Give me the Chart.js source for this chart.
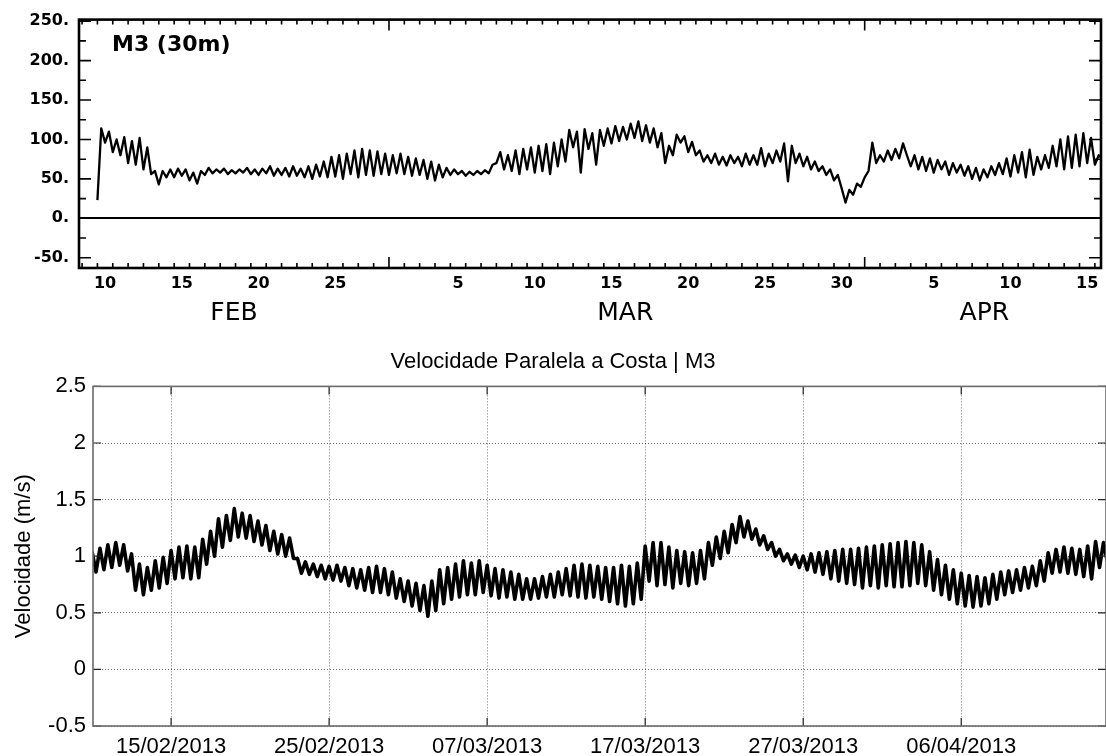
<!DOCTYPE html>
<html>
<head>
<meta charset="utf-8">
<title>Velocidade Paralela a Costa | M3</title>
<script src="https://cdn.jsdelivr.net/npm/chart.js@4.4.1/dist/chart.umd.min.js"></script>
<style>
  html, body { margin: 0; padding: 0; background: #fff; }
  #wrap { position: relative; width: 1106px; height: 756px; overflow: hidden; }
  #topWrap { position: absolute; left: 0; top: 0; width: 1106px; height: 330px; }
  #bottomWrap { position: absolute; left: 0; top: 330px; width: 1106px; height: 426px; }
</style>
</head>
<body>
<div id="wrap">
  <div id="topWrap"><canvas id="topChart"></canvas></div>
  <div id="bottomWrap"><canvas id="bottomChart"></canvas></div>
</div>
<script>
// ---- top panel (scanned plot): days since 10 Feb, one value every 6 h ----
const topPanelLabel = 'M3 (30m)';
const topStartDay = 0;
const topStepDays = 0.25;
const topValues = [
  23, 114, 96, 110,   84, 100, 80, 103,   70, 98, 68, 102,   62, 90, 56, 60,
  43, 60, 52, 62,     52, 63, 54, 62,     48, 58, 44, 60,    55, 64, 57, 62,
  58, 63, 56, 61,     57, 62, 58, 64,     56, 62, 55, 63,    57, 66, 54, 63,
  55, 64, 53, 66,     54, 63, 52, 66,     50, 68, 53, 72,    52, 78, 53, 80,
  50, 82, 56, 86,     52, 88, 55, 86,     54, 85, 56, 82,    55, 80, 57, 82,
  56, 78, 54, 76,     55, 74, 50, 72,     48, 68, 52, 64,    55, 62, 56, 60,
  54, 59, 55, 60,     56, 61, 57, 68,     70, 84, 62, 80,    60, 86, 56, 88,
  62, 90, 58, 92,     60, 94, 56, 96,     66, 100, 72, 112,  90, 110, 58, 113,
  88, 108, 68, 112,   92, 114, 95, 117,   98, 116, 100, 120, 102, 123, 98, 118,
  96, 114, 90, 108,   70, 92, 80, 106,    96, 104, 84, 97,   80, 86, 72, 80,
  70, 82, 68, 78,     67, 80, 70, 78,     66, 82, 68, 80,    68, 89, 66, 82,
  70, 86, 72, 95,     47, 92, 70, 82,     66, 78, 62, 72,    60, 66, 55, 62,
  48, 55, 38, 20,     36, 30, 44, 40,     52, 60, 96, 70,    80, 72, 86, 74,
  88, 76, 95, 80,     66, 80, 62, 78,     60, 76, 58, 74,    62, 72, 55, 70,
  58, 68, 54, 66,     50, 64, 48, 62,     52, 66, 55, 70,    56, 76, 53, 80,
  58, 84, 52, 87,     55, 78, 62, 80,     64, 92, 66, 100,   62, 104, 64, 106,
  66, 108, 70, 102,   68, 80, 75
];
const topTickDays = [0.5, 5.5, 10.5, 15.5, 23.5, 28.5, 33.5, 38.5, 43.5, 48.5, 54.5, 59.5, 64.5];
const topTickLabels = ['10', '15', '20', '25', '5', '10', '15', '20', '25', '30', '5', '10', '15'];
const topMonthDays = [8.9, 34.4, 57.8];
const topMonths = ['FEB', 'MAR', 'APR'];
const topMonthStarts = [19, 50];
const topYTicks = [-50, 0, 50, 100, 150, 200, 250];

// ---- bottom panel: days since 15/02/2013, one value every 6 h ----
const bottomTitle = 'Velocidade Paralela a Costa | M3';
const bottomYTitle = 'Velocidade (m/s)';
const bottomStartDay = -5;
const bottomStepDays = 0.25;
const bottomValues = [
  1.04, 0.86, 1.07, 0.88,  1.10, 0.90, 1.12, 0.92,  1.10, 0.87, 1.02, 0.70,  0.93, 0.66, 0.90, 0.70,
  0.96, 0.72, 0.99, 0.76,  1.05, 0.80, 1.08, 0.81,  1.09, 0.80, 1.08, 0.81,  1.15, 0.93, 1.22, 1.00,
  1.33, 1.08, 1.36, 1.14,  1.42, 1.17, 1.38, 1.16,  1.36, 1.13, 1.31, 1.10,  1.27, 1.05, 1.22, 1.02,
  1.19, 1.00, 1.16, 0.98,  0.98, 0.85, 0.95, 0.84,  0.93, 0.82, 0.92, 0.80,  0.91, 0.79, 0.92, 0.78,
  0.90, 0.74, 0.89, 0.72,  0.88, 0.70, 0.90, 0.68,  0.91, 0.68, 0.89, 0.66,  0.86, 0.63, 0.80, 0.60,
  0.78, 0.56, 0.76, 0.52,  0.74, 0.47, 0.78, 0.52,  0.88, 0.58, 0.90, 0.62,  0.93, 0.64, 0.96, 0.66,
  0.94, 0.66, 0.96, 0.68,  0.92, 0.65, 0.89, 0.63,  0.88, 0.64, 0.86, 0.62,  0.84, 0.62, 0.80, 0.62,
  0.80, 0.63, 0.82, 0.64,  0.84, 0.64, 0.86, 0.66,  0.89, 0.65, 0.92, 0.64,  0.93, 0.63, 0.92, 0.64,
  0.91, 0.62, 0.90, 0.60,  0.90, 0.58, 0.92, 0.56,  0.91, 0.58, 0.94, 0.62,  1.09, 0.78, 1.12, 0.74,
  1.12, 0.75, 1.08, 0.72,  1.05, 0.76, 1.04, 0.74,  1.03, 0.76, 1.05, 0.80,  1.12, 0.92, 1.17, 0.98,
  1.22, 1.03, 1.28, 1.12,  1.35, 1.17, 1.31, 1.15,  1.24, 1.10, 1.18, 1.06,  1.12, 1.00, 1.06, 0.96,
  1.02, 0.93, 1.01, 0.90,  1.00, 0.88, 1.02, 0.86,  1.03, 0.84, 1.04, 0.80,  1.05, 0.78, 1.06, 0.76,
  1.06, 0.75, 1.07, 0.72,  1.08, 0.74, 1.09, 0.72,  1.10, 0.74, 1.11, 0.73,  1.12, 0.73, 1.13, 0.74,
  1.12, 0.76, 1.10, 0.74,  1.04, 0.70, 0.97, 0.66,  0.92, 0.62, 0.88, 0.58,  0.85, 0.56, 0.83, 0.55,
  0.82, 0.56, 0.81, 0.58,  0.84, 0.62, 0.86, 0.66,  0.87, 0.68, 0.88, 0.70,  0.90, 0.72, 0.91, 0.74,
  0.96, 0.78, 1.03, 0.85,  1.06, 0.86, 1.08, 0.85,  1.07, 0.84, 1.06, 0.82,  1.09, 0.80, 1.13, 0.90,
  1.12, 0.95, 1.10, 0.96
];
const bottomTickDays = [0, 10, 20, 30, 40, 50];
const bottomTickLabels = ['15/02/2013', '25/02/2013', '07/03/2013', '17/03/2013', '27/03/2013', '06/04/2013'];

const scanFont = 'DejaVu Sans';
const matFont = 'Liberation Sans';

// frame, inward ticks and panel label of the scanned plot
const topFrame = {
  id: 'topFrame',
  afterDatasetsDraw(chart) {
    const { ctx, chartArea: a, scales: { x, y } } = chart;
    ctx.save();
    ctx.strokeStyle = '#000';
    ctx.lineWidth = 1.6;
    ctx.beginPath();
    for (let d = Math.ceil(x.min); d <= x.max; d++) {
      const px = x.getPixelForValue(d);
      const len = topMonthStarts.includes(d) ? 11 : 5;
      ctx.moveTo(px, a.top); ctx.lineTo(px, a.top + len);
      ctx.moveTo(px, a.bottom); ctx.lineTo(px, a.bottom - len);
    }
    for (let v = -50; v <= 250; v += 25) {
      const py = y.getPixelForValue(v);
      const len = v % 50 === 0 ? 12 : 7;
      ctx.moveTo(a.left, py); ctx.lineTo(a.left + len, py);
      ctx.moveTo(a.right, py); ctx.lineTo(a.right - len, py);
    }
    ctx.stroke();
    ctx.lineWidth = 2.6;
    ctx.strokeRect(a.left, a.top, a.width, a.height);
    ctx.fillStyle = '#000';
    ctx.font = 'bold 22px "' + scanFont + '"';
    ctx.textBaseline = 'middle';
    ctx.fillText(topPanelLabel, a.left + 33, a.top + 26);
    ctx.restore();
  }
};

// MATLAB style box with inward ticks
const bottomFrame = {
  id: 'bottomFrame',
  afterDatasetsDraw(chart) {
    const { ctx, chartArea: a, scales: { x, y } } = chart;
    ctx.save();
    ctx.strokeStyle = '#222';
    ctx.lineWidth = 1.2;
    ctx.beginPath();
    x.ticks.forEach(t => {
      const px = x.getPixelForValue(t.value);
      ctx.moveTo(px, a.top); ctx.lineTo(px, a.top + 8);
      ctx.moveTo(px, a.bottom); ctx.lineTo(px, a.bottom - 8);
    });
    y.ticks.forEach(t => {
      const py = y.getPixelForValue(t.value);
      ctx.moveTo(a.left, py); ctx.lineTo(a.left + 8, py);
      ctx.moveTo(a.right, py); ctx.lineTo(a.right - 8, py);
    });
    ctx.stroke();
    ctx.strokeStyle = '#6a6a6a';
    ctx.lineWidth = 1.6;
    ctx.strokeRect(a.left, a.top, a.width, a.height);
    ctx.restore();
  }
};

const topChart = new Chart(document.getElementById('topChart'), {
  type: 'line',
  data: {
    datasets: [{
      data: topValues.map((v, i) => ({ x: topStartDay + i * topStepDays, y: v })),
      borderColor: '#000',
      borderWidth: 2.3,
      borderJoinStyle: 'round',
      pointRadius: 0,
      tension: 0
    }]
  },
  options: {
    responsive: true,
    maintainAspectRatio: false,
    animation: false,
    layout: { padding: { top: 19, right: 5, left: 0, bottom: 0 } },
    plugins: { legend: { display: false }, tooltip: { enabled: false } },
    scales: {
      x: {
        type: 'linear', min: -1.2, max: 65.4,
        afterBuildTicks: s => { s.ticks = topTickDays.map(v => ({ value: v })); },
        afterFit: s => { s.height = 29; },
        ticks: {
          callback: (v, i) => topTickLabels[i],
          font: { family: scanFont, size: 16, weight: 'bold' },
          color: '#000', padding: 6, maxRotation: 0, autoSkip: false
        },
        grid: { display: false, drawTicks: false },
        border: { display: false }
      },
      x2: {
        type: 'linear', position: 'bottom', weight: 1, min: -1.2, max: 65.4,
        afterBuildTicks: s => { s.ticks = topMonthDays.map(v => ({ value: v })); },
        afterFit: s => { s.height = 33; },
        ticks: {
          callback: (v, i) => topMonths[i],
          font: { family: scanFont, size: 25 },
          color: '#000', padding: 1, maxRotation: 0, autoSkip: false
        },
        grid: { display: false, drawTicks: false },
        border: { display: false }
      },
      y: {
        min: -63, max: 252,
        afterBuildTicks: s => { s.ticks = topYTicks.map(v => ({ value: v })); },
        afterFit: s => { s.width = 79; },
        ticks: {
          callback: v => v + '.',
          font: { family: scanFont, size: 16, weight: 'bold' },
          color: '#000', padding: 10
        },
        grid: {
          drawTicks: false,
          color: c => (c.tick && c.tick.value === 0 ? '#000' : 'rgba(0,0,0,0)'),
          lineWidth: 2
        },
        border: { display: false }
      }
    }
  },
  plugins: [topFrame]
});

const bottomChart = new Chart(document.getElementById('bottomChart'), {
  type: 'line',
  data: {
    datasets: [{
      data: bottomValues.map((v, i) => ({ x: bottomStartDay + i * bottomStepDays, y: v })),
      borderColor: '#000',
      borderWidth: 3.6,
      borderJoinStyle: 'round',
      pointRadius: 0,
      tension: 0
    }]
  },
  options: {
    responsive: true,
    maintainAspectRatio: false,
    animation: false,
    layout: { padding: 0 },
    plugins: {
      legend: { display: false },
      tooltip: { enabled: false },
      title: {
        display: true, text: bottomTitle, color: '#000',
        font: { family: matFont, size: 22, weight: 'normal' },
        padding: { top: 19, bottom: 11 }
      }
    },
    scales: {
      x: {
        type: 'linear', min: -4.94, max: 59.16,
        afterBuildTicks: s => { s.ticks = bottomTickDays.map(v => ({ value: v })); },
        afterFit: s => { s.height = 30; },
        ticks: {
          callback: (v, i) => bottomTickLabels[i],
          font: { family: matFont, size: 22 },
          color: '#000', padding: 8, maxRotation: 0, autoSkip: false
        },
        grid: { drawTicks: false, color: 'rgba(0,0,0,0.55)', lineWidth: 1 },
        border: { display: false, dash: [1, 2] }
      },
      y: {
        min: -0.5, max: 2.5,
        afterFit: s => { s.width = 93; },
        ticks: {
          stepSize: 0.5,
          callback: v => String(v),
          font: { family: matFont, size: 22 },
          color: '#000', padding: 7
        },
        title: {
          display: true, text: bottomYTitle, color: '#000',
          font: { family: matFont, size: 22 },
          padding: { top: 11, bottom: 0 }
        },
        grid: { drawTicks: false, color: 'rgba(0,0,0,0.55)', lineWidth: 1 },
        border: { display: false, dash: [1, 2] }
      }
    }
  },
  plugins: [bottomFrame]
});
</script>
</body>
</html>
